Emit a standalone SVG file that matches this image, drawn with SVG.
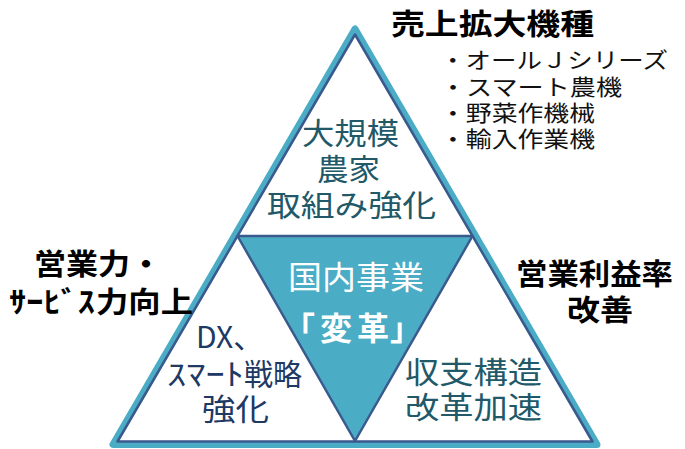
<svg xmlns="http://www.w3.org/2000/svg" width="685" height="449" viewBox="0 0 685 449">
<style>
text{font-family:"Noto Sans CJK JP","Noto Sans",sans-serif;}
.lbl{font-weight:bold;fill:#000;font-size:29px;}
.sub{fill:#111;font-size:22px;}
.teal{fill:#215968;font-size:30px;}
.navy{fill:#203864;font-size:30px;}
.wht{fill:#fff;font-size:32px;}
.edge{stroke:#3A5A8E;stroke-width:2.5;stroke-linejoin:round;}
</style>
<rect width="685" height="449" fill="#fff"/>
<g id="frame">
<polygon points="355,29 113,444.5 597,444.5" fill="#fff" stroke="#4BACC6" stroke-width="7" stroke-linejoin="round"/>
<polygon class="edge" points="355,34.5 117.5,441.5 592.5,441.5" fill="none"/>
</g>
<g id="center">
<polygon class="edge" points="237.5,236 472.5,236 355,441" fill="#4BACC6"/>
<text class="wht" x="288" y="289" textLength="136" lengthAdjust="spacingAndGlyphs">国内事業</text>
<text class="wht" font-weight="bold" x="283 320 357 390" y="340">「変革」</text>
</g>
<g id="top">
<text class="teal" x="302" y="144" textLength="97" lengthAdjust="spacingAndGlyphs">大規模</text>
<text class="teal" x="317" y="180" textLength="63" lengthAdjust="spacingAndGlyphs">農家</text>
<text class="teal" x="267" y="216" textLength="169" lengthAdjust="spacingAndGlyphs">取組み強化</text>
</g>
<g id="left">
<text class="navy" font-size="31" x="196" y="348">DX、</text>
<text class="navy" x="167" y="385" textLength="77" lengthAdjust="spacingAndGlyphs">ｽﾏｰﾄ</text>
<text class="navy" x="244" y="385" textLength="58" lengthAdjust="spacingAndGlyphs">戦略</text>
<text class="navy" x="202" y="420" textLength="67" lengthAdjust="spacingAndGlyphs">強化</text>
</g>
<g id="right">
<text class="teal" x="405" y="383" textLength="137" lengthAdjust="spacingAndGlyphs">収支構造</text>
<text class="teal" x="405" y="418" textLength="137" lengthAdjust="spacingAndGlyphs">改革加速</text>
</g>
<g id="label-top">
<text class="lbl" font-size="26" x="391" y="35" textLength="203" lengthAdjust="spacingAndGlyphs">売上拡大機種</text>
<text class="sub" x="440" y="68" textLength="228" lengthAdjust="spacingAndGlyphs">・オールＪシリーズ</text>
<text class="sub" x="440" y="95" textLength="182" lengthAdjust="spacingAndGlyphs">・スマート農機</text>
<text class="sub" x="440" y="121" textLength="155" lengthAdjust="spacingAndGlyphs">・野菜作機械</text>
<text class="sub" x="440" y="147" textLength="155" lengthAdjust="spacingAndGlyphs">・輸入作業機</text>
</g>
<g id="label-left">
<text class="lbl" x="34" y="275" textLength="128" lengthAdjust="spacingAndGlyphs">営業力・</text>
<text class="lbl" x="9" y="313" textLength="86" lengthAdjust="spacingAndGlyphs">ｻｰﾋﾞｽ</text>
<text class="lbl" x="96" y="313" textLength="97" lengthAdjust="spacingAndGlyphs">力向上</text>
</g>
<g id="label-right">
<text class="lbl" x="516" y="285" textLength="157" lengthAdjust="spacingAndGlyphs">営業利益率</text>
<text class="lbl" x="567" y="321" textLength="66" lengthAdjust="spacingAndGlyphs">改善</text>
</g>
<g id="connectors"/>
</svg>
